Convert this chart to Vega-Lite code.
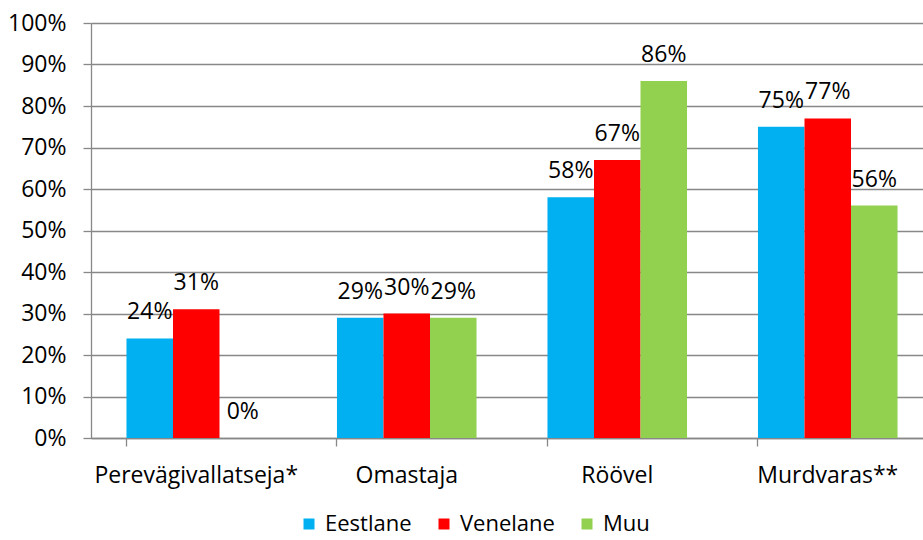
{
  "$schema": "https://vega.github.io/schema/vega-lite/v6.json",
  "autosize": "none",
  "width": 842,
  "height": 415,
  "padding": {"left": 91, "top": 23, "right": 0, "bottom": 102},
  "background": "white",
  "config": {
    "view": {"stroke": null},
    "font": "Open Sans",
    "axis": {"labelFont": "Open Sans", "labelFontSize": 23, "labelColor": "#000000", "domainColor": "#888888", "tickColor": "#888888", "gridColor": "#888888", "domainWidth": 1.3, "tickWidth": 1.3, "gridWidth": 1.3, "titleFontSize": 0, "labelLimit": 0},
    "legend": {"labelFont": "Open Sans", "labelFontSize": 22, "labelColor": "#000000", "labelLimit": 0}
  },
  "data": {
    "values": [
      {"kategooria": "Perevägivallatseja*", "rahvus": "Eestlane", "osakaal": 0.24},
      {"kategooria": "Perevägivallatseja*", "rahvus": "Venelane", "osakaal": 0.31},
      {"kategooria": "Perevägivallatseja*", "rahvus": "Muu", "osakaal": 0.0},
      {"kategooria": "Omastaja", "rahvus": "Eestlane", "osakaal": 0.29},
      {"kategooria": "Omastaja", "rahvus": "Venelane", "osakaal": 0.30},
      {"kategooria": "Omastaja", "rahvus": "Muu", "osakaal": 0.29},
      {"kategooria": "Röövel", "rahvus": "Eestlane", "osakaal": 0.58},
      {"kategooria": "Röövel", "rahvus": "Venelane", "osakaal": 0.67},
      {"kategooria": "Röövel", "rahvus": "Muu", "osakaal": 0.86},
      {"kategooria": "Murdvaras**", "rahvus": "Eestlane", "osakaal": 0.75},
      {"kategooria": "Murdvaras**", "rahvus": "Venelane", "osakaal": 0.77},
      {"kategooria": "Murdvaras**", "rahvus": "Muu", "osakaal": 0.56}
    ]
  },
  "encoding": {
    "x": {
      "field": "kategooria",
      "type": "nominal",
      "sort": ["Perevägivallatseja*", "Omastaja", "Röövel", "Murdvaras**"],
      "scale": {"paddingInner": 0.337, "paddingOuter": 0.1685},
      "axis": {"title": null, "labelAngle": 0, "grid": false, "ticks": true, "tickSize": 8, "bandPosition": 0, "labelPadding": 18, "labelLimit": 0, "domain": true}
    },
    "xOffset": {
      "field": "rahvus",
      "type": "nominal",
      "sort": ["Eestlane", "Venelane", "Muu"],
      "scale": {"paddingInner": 0, "paddingOuter": 0}
    },
    "y": {
      "field": "osakaal",
      "type": "quantitative",
      "scale": {"domain": [0, 1], "nice": false},
      "axis": {"title": null, "format": ".0%", "values": [0, 0.1, 0.2, 0.3, 0.4, 0.5, 0.6, 0.7, 0.8, 0.9, 1.0], "tickSize": 8, "labelPadding": 17, "grid": true, "domain": true}
    }
  },
  "layer": [
    {
      "mark": {"type": "bar"},
      "encoding": {
        "color": {
          "field": "rahvus",
          "type": "nominal",
          "sort": ["Eestlane", "Venelane", "Muu"],
          "scale": {"domain": ["Eestlane", "Venelane", "Muu"], "range": ["#00B0F0", "#FF0000", "#92D050"]},
          "legend": {"title": null, "orient": "none", "direction": "horizontal", "legendX": 207, "legendY": 490, "symbolType": "square", "symbolSize": 121, "symbolStrokeWidth": 0, "labelOffset": 5, "columnPadding": 21, "padding": 0}
        }
      }
    },
    {
      "mark": {"type": "text", "baseline": "alphabetic", "dy": -19, "fontSize": 23, "font": "Open Sans", "color": "#000000"},
      "encoding": {
        "text": {"field": "osakaal", "type": "quantitative", "format": ".0%"}
      }
    }
  ]
}
